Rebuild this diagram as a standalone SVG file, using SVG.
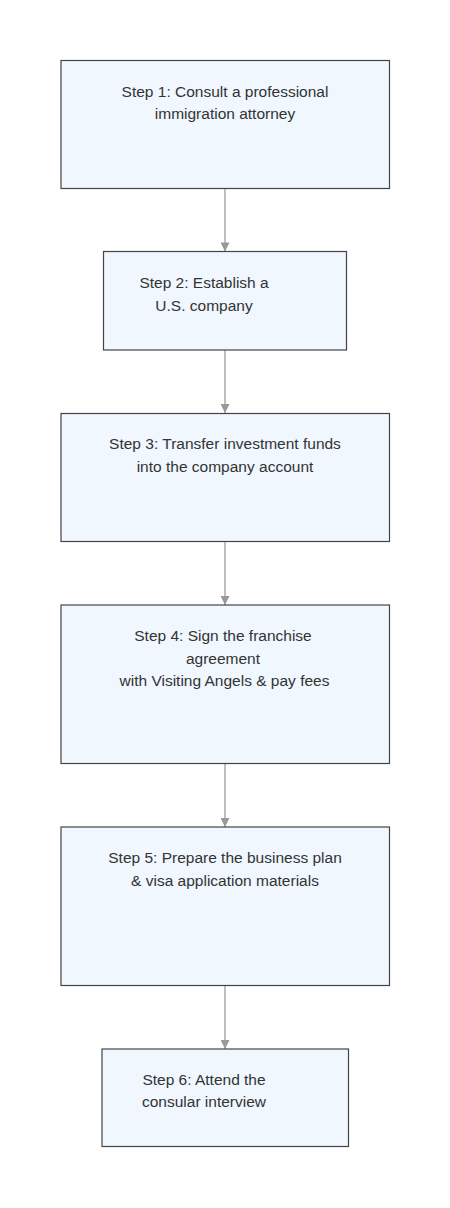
<svg xmlns="http://www.w3.org/2000/svg" width="450" height="1208" viewBox="0 0 450 1208">
<style>
.node rect{fill:#f0f7fe;stroke:#444;stroke-width:1.2}
.node text{font-family:"Liberation Sans",Arial,sans-serif;font-size:15.5px;fill:#333;text-anchor:middle}
.edge{stroke:#aaa;stroke-width:1.5;fill:none;marker-end:url(#arr)}
</style>
<defs>
<marker id="arr" viewBox="0 0 10 10" refX="10" refY="5" markerWidth="10" markerHeight="9" markerUnits="userSpaceOnUse" orient="auto">
<path d="M0,0 L10,5 L0,10 z" fill="#999"/>
</marker>
</defs>
<rect width="450" height="1208" fill="#fff"/>
<g id="connectors">
<line class="edge" x1="225" y1="188" x2="225" y2="251.5"/>
<line class="edge" x1="225" y1="350" x2="225" y2="413"/>
<line class="edge" x1="225" y1="542" x2="225" y2="605"/>
<line class="edge" x1="225" y1="763.5" x2="225" y2="827"/>
<line class="edge" x1="225" y1="985.5" x2="225" y2="1049"/>
</g>
<g id="step1" class="node">
<rect x="61" y="60.5" width="328.5" height="128"/>
<text x="225" y="96.5">Step 1: Consult a professional</text>
<text x="225" y="119">immigration attorney</text>
</g>
<g id="step2" class="node">
<rect x="103.5" y="251.5" width="243" height="98.5"/>
<text x="204" y="288">Step 2: Establish a</text>
<text x="204" y="311">U.S. company</text>
</g>
<g id="step3" class="node">
<rect x="61" y="413.5" width="328.5" height="128"/>
<text x="225" y="449">Step 3: Transfer investment funds</text>
<text x="225" y="472">into the company account</text>
</g>
<g id="step4" class="node">
<rect x="61" y="605" width="328.5" height="158.5"/>
<text x="223" y="641">Step 4: Sign the franchise</text>
<text x="223" y="663.5">agreement</text>
<text x="224.5" y="686">with Visiting Angels &amp; pay fees</text>
</g>
<g id="step5" class="node">
<rect x="61" y="827" width="328.5" height="158.5"/>
<text x="225" y="863">Step 5: Prepare the business plan</text>
<text x="225" y="885.5">&amp; visa application materials</text>
</g>
<g id="step6" class="node">
<rect x="102" y="1049" width="246.5" height="97.5"/>
<text x="204" y="1084.5">Step 6: Attend the</text>
<text x="204" y="1107">consular interview</text>
</g>
</svg>
